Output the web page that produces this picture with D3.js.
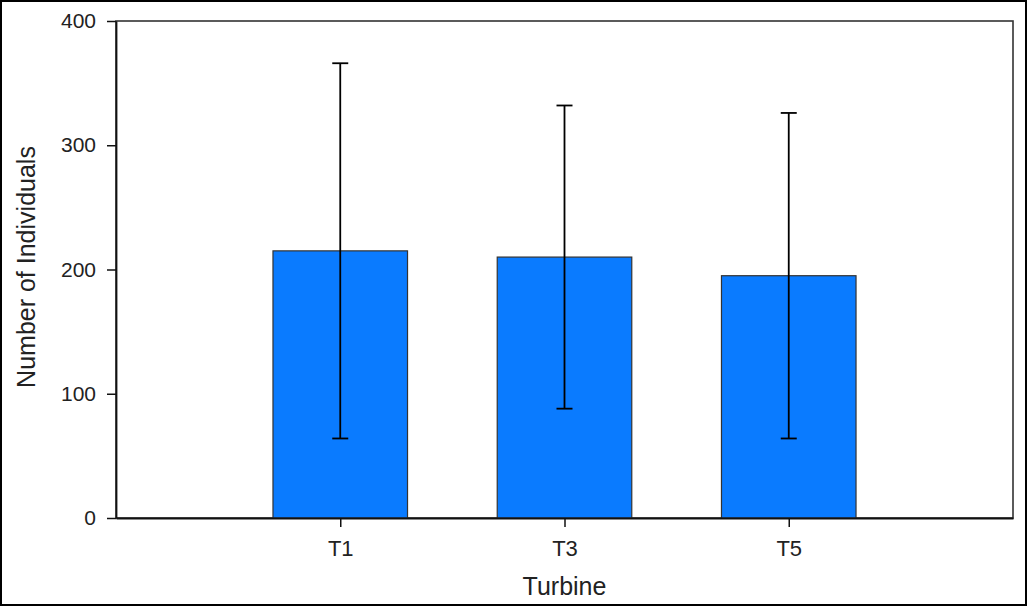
<!DOCTYPE html>
<html>
<head>
<meta charset="utf-8">
<script src="https://cdn.jsdelivr.net/npm/d3@7"></script>
<style>
  html, body { margin: 0; padding: 0; background: #fff; }
  svg { display: block; }
  text { font-family: "Liberation Sans", Arial, sans-serif; fill: #222; }
</style>
</head>
<body>
<svg id="chart" width="1027" height="606"></svg>
<script>
const categories = ["T1", "T3", "T5"];
const means = [215, 210, 195];
const errors = [151, 122, 131];
const yTicks = [0, 100, 200, 300, 400];
const xTitle = "Turbine";
const yTitle = "Number of Individuals";

const W = 1027, H = 606;
const m = { left: 116, right: 14, top: 21, bottom: 88 };
const svg = d3.select("#chart");

// outer border
svg.append("rect").attr("x", 1).attr("y", 1).attr("width", W - 2).attr("height", H - 2)
  .attr("fill", "#fff").attr("stroke", "#000").attr("stroke-width", 2);

const x = d3.scalePoint().domain(categories).range([m.left, W - m.right]).padding(1);
const y = d3.scaleLinear().domain([0, 400]).range([H - m.bottom, m.top]);
const barW = x.step() * 0.6;

// plot frame (top & right)
svg.append("rect").attr("x", m.left).attr("y", m.top)
  .attr("width", W - m.right - m.left).attr("height", H - m.bottom - m.top)
  .attr("fill", "none").attr("stroke", "#333").attr("stroke-width", 1.6);

const data = categories.map((c, i) => ({ c, v: means[i], e: errors[i] }));

svg.append("g").selectAll("rect").data(data).join("rect")
  .attr("x", d => x(d.c) - barW / 2)
  .attr("y", d => y(d.v))
  .attr("width", barW)
  .attr("height", d => y(0) - y(d.v))
  .attr("fill", "#0a7bff")
  .attr("stroke", "#333")
  .attr("stroke-width", 1.2);

const eb = svg.append("g").attr("stroke", "#000").attr("stroke-width", 1.8);
eb.selectAll("line.v").data(data).join("line").attr("class", "v")
  .attr("x1", d => x(d.c)).attr("x2", d => x(d.c))
  .attr("y1", d => y(d.v + d.e)).attr("y2", d => y(d.v - d.e));
eb.selectAll("line.t").data(data).join("line").attr("class", "t")
  .attr("x1", d => x(d.c) - 8).attr("x2", d => x(d.c) + 8)
  .attr("y1", d => y(d.v + d.e)).attr("y2", d => y(d.v + d.e));
eb.selectAll("line.b").data(data).join("line").attr("class", "b")
  .attr("x1", d => x(d.c) - 8).attr("x2", d => x(d.c) + 8)
  .attr("y1", d => y(d.v - d.e)).attr("y2", d => y(d.v - d.e));

// y axis
const yAxis = svg.append("g").attr("transform", `translate(${m.left},0)`)
  .call(d3.axisLeft(y).tickValues(yTicks).tickSize(9).tickPadding(11).tickSizeOuter(0));
yAxis.select(".domain").attr("stroke", "#111").attr("stroke-width", 1.8);
yAxis.selectAll(".tick line").attr("stroke", "#111").attr("stroke-width", 1.5);
yAxis.selectAll(".tick text").attr("font-size", 21).attr("fill", "#222")
  .attr("font-family", "Liberation Sans, Arial, sans-serif");

// x axis
const xAxis = svg.append("g").attr("transform", `translate(0,${H - m.bottom})`)
  .call(d3.axisBottom(x).tickSize(9).tickPadding(13).tickSizeOuter(0));
xAxis.select(".domain").attr("stroke", "#111").attr("stroke-width", 1.8);
xAxis.selectAll(".tick line").attr("stroke", "#111").attr("stroke-width", 1.5);
xAxis.selectAll(".tick text").attr("font-size", 22).attr("fill", "#222")
  .attr("font-family", "Liberation Sans, Arial, sans-serif");

svg.append("text").attr("x", (m.left + W - m.right) / 2).attr("y", 595)
  .attr("text-anchor", "middle").attr("font-size", 25).text(xTitle);
svg.append("text").attr("transform", `translate(35,${267}) rotate(-90)`)
  .attr("text-anchor", "middle").attr("font-size", 25).text(yTitle);
</script>
</body>
</html>
